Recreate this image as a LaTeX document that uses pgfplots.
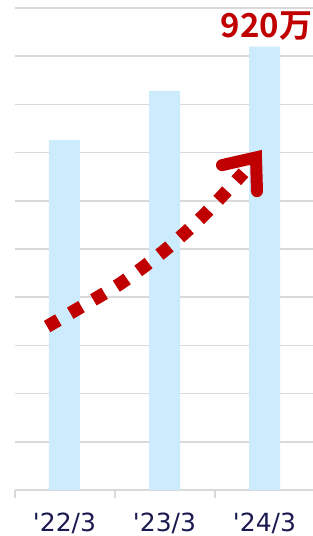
\documentclass[border=0pt]{standalone}
\usepackage{pgfplots}
\pgfplotsset{compat=1.18}
\usepackage{fontspec}
\setmainfont{DejaVu Sans}
\newfontfamily\cjkbold{Noto Sans CJK JP Bold}
\definecolor{barblue}{HTML}{CCEBFC}
\definecolor{gridgray}{HTML}{D9D9D9}
\definecolor{navy}{HTML}{1A1A50}
\definecolor{darkred}{HTML}{C00000}
\begin{document}
\begin{tikzpicture}
\path[use as bounding box] (-15pt,-46pt) rectangle (298pt,490pt);
\begin{axis}[
  scale only axis,
  width=298pt, height=482pt,
  xmin=-0.495, xmax=2.485,
  ymin=0, ymax=1000,
  axis x line*=bottom, axis y line*=left,
  y axis line style={draw=none},
  x axis line style={draw=gridgray, line width=1.5pt, -},
  ytick={100,200,...,1000},
  yticklabels={},
  major y tick style={draw=none},
  ymajorgrids,
  grid style={gridgray, line width=1.5pt},
  xtick={-0.495,0.505,1.505},
  xticklabels={},
  tick align=outside,
  major x tick style={draw=gridgray, line width=1.5pt},
  major tick length=8pt,
  extra x ticks={0,1,2},
  extra x tick labels={\textquotesingle22/3,\textquotesingle23/3,\textquotesingle24/3},
  extra x tick style={grid=none, major tick length=0pt, major x tick style={draw=none},
    xticklabel style={font=\fontsize{25}{30}\selectfont, text=navy, yshift=-19pt}},
  clip=false,
]
\addplot[ybar, bar width=0.31, fill=barblue, draw=none] coordinates {(0,726) (1,828) (2,920)};
\addplot[darkred, line width=13pt, dash pattern=on 13pt off 13.7pt, line cap=butt, smooth] coordinates {(-0.174,339.2) (0.112,373.4) (0.562,428.8) (0.995,495.9) (1.385,568.5) (1.790,658.1)};
\addplot[darkred, line width=12pt, line cap=round, line join=miter] coordinates {(1.575,674) (1.915,690) (1.925,620)};
\node[anchor=base, text=darkred, font=\cjkbold\fontsize{33}{36}\selectfont, inner sep=0pt] at (axis cs:2,920) [yshift=9pt, xshift=2pt] {920万};
\end{axis}
\end{tikzpicture}
\end{document}
